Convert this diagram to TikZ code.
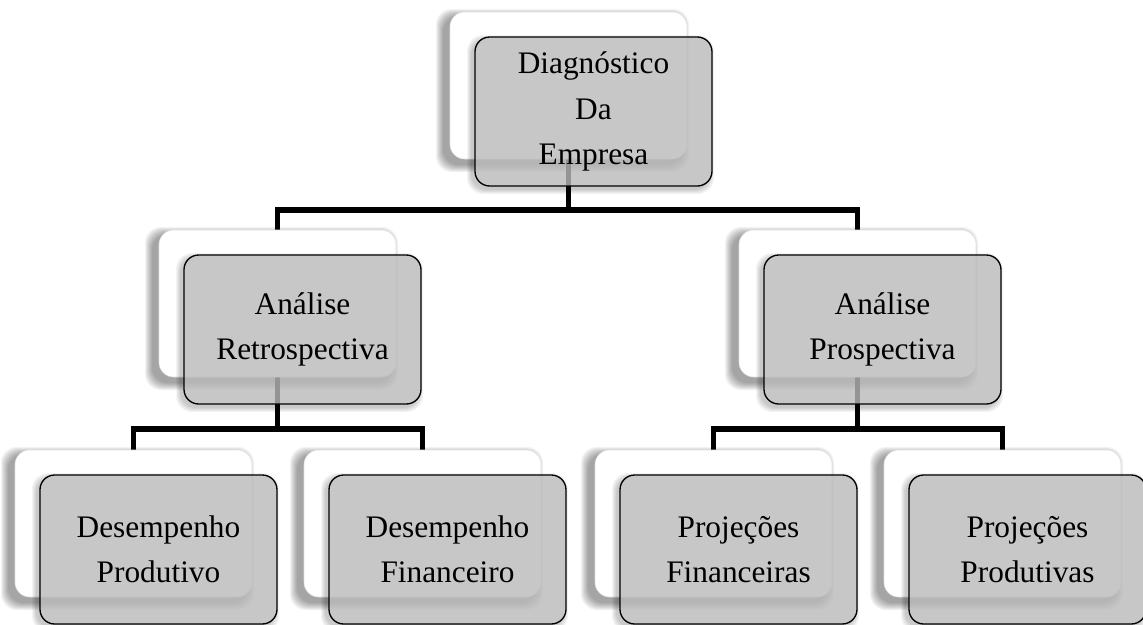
\documentclass[tikz,border=0pt]{standalone}
\usepackage{fontspec}
\setmainfont{Liberation Serif}
\usetikzlibrary{backgrounds}
\tikzset{
  x=0.75pt, y=-0.75pt,
  backcard/.style={rectangle, rounded corners=11pt, minimum width=177.75pt, minimum height=110.25pt,
    inner sep=0pt, outer sep=0pt, anchor=north west, fill=white, draw=black!12, line width=0.4pt},
  frontcard/.style={rectangle, rounded corners=11pt, minimum width=177.75pt, minimum height=111.75pt,
    inner sep=0pt, outer sep=0pt, anchor=north west, fill=black!27, fill opacity=0.8, text opacity=1,
    draw=black, line width=1pt, align=center, font=\fontsize{23.5}{34}\selectfont},
  conn/.style={line width=4pt, draw=black, line join=miter},
  shadowlayer/.style={fill=black, opacity=0.05, rounded corners=12pt}
}
\newcommand\orgcard[4]{%
  \foreach \s in {1,...,8}{
    \fill[shadowlayer] ({#2-6-\s},{#3+5-\s}) rectangle ({#2+237-6+\s},{#3+147+5+\s});
  }
  \node[backcard] (b#1) at (#2,#3) {};
  \begin{scope}[even odd rule, rounded corners=11pt]
    \clip ({#2-30},{#3}) rectangle ({#2+300},{#3+210})
      ({#2+25},{#3+25}) rectangle ({#2+262},{#3+174});
    \foreach \s in {1,...,5}{
      \fill[shadowlayer, opacity=0.045] ({#2+25-3-\s},{#3+25+3-\s}) rectangle ({#2+262-3+\s},{#3+174+3+\s});
    }
  \end{scope}
  \node[frontcard] (f#1) at ({#2+25},{#3+25}) {#4};
}
\begin{document}
\begin{tikzpicture}
\useasboundingbox (0,0) rectangle (1143,625);
\orgcard{A}{450}{12}{Diagnóstico\\Da\\Empresa}
\orgcard{B}{159}{230}{Análise\\Retrospectiva}
\orgcard{C}{739}{230}{Análise\\Prospectiva}
\orgcard{D}{15}{450}{Desempenho\\Produtivo}
\orgcard{E}{304}{450}{Desempenho\\Financeiro}
\orgcard{F}{595}{450}{Projeções\\Financeiras}
\orgcard{G}{884}{450}{Projeções\\Produtivas}
\begin{pgfonlayer}{background}
  \fill[white] (0,0) rectangle (1143,625);
  \draw[conn] (bA.south) -- ++(0,51) coordinate (jA);
  \draw[conn] (bB.north) |- (jA) -| (bC.north);
  \draw[conn] (bB.south) -- ++(0,52) coordinate (jB);
  \draw[conn] (bD.north) |- (jB) -| (bE.north);
  \draw[conn] (bC.south) -- ++(0,52) coordinate (jC);
  \draw[conn] (bF.north) |- (jC) -| (bG.north);
\end{pgfonlayer}
\end{tikzpicture}
\end{document}
